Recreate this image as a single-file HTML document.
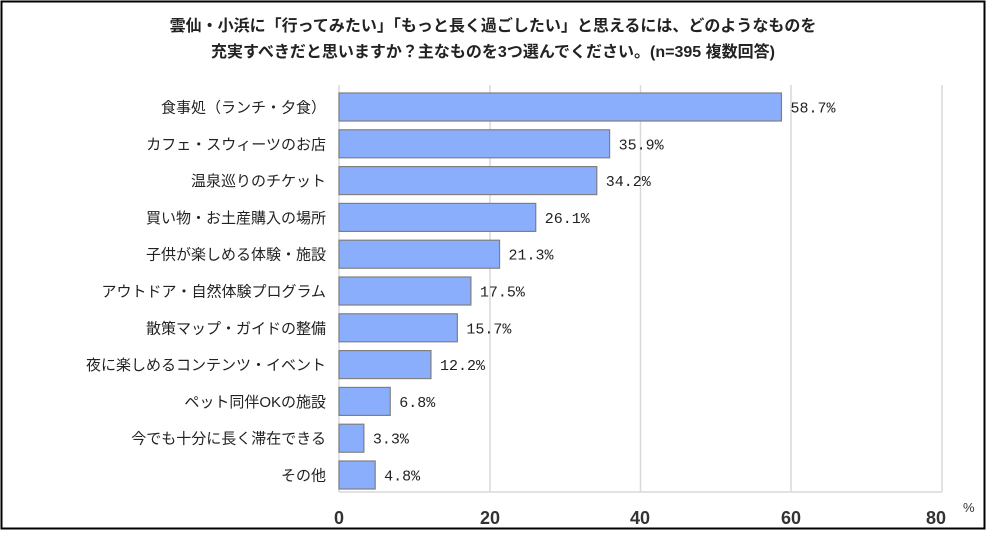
<!DOCTYPE html><html><head><meta charset="utf-8"><style>
body{margin:0;background:#fff;}
svg text{font-family:"Liberation Sans","Noto Sans CJK JP",sans-serif;}
svg text.m{font-family:"Liberation Mono",monospace;}
</style></head><body>
<svg width="987" height="532" xmlns="http://www.w3.org/2000/svg">
<rect x="1.5" y="1.5" width="983" height="527" fill="#fff" stroke="#000" stroke-width="2"/>
<text x="493" y="31" text-anchor="middle" font-size="16" font-weight="bold" fill="#222">雲仙・小浜に「行ってみたい」「もっと長く過ごしたい」と思えるには、どのようなものを</text>
<text x="493" y="57" text-anchor="middle" font-size="16" font-weight="bold" fill="#222">充実すべきだと思いますか？主なものを3つ選んでください。(n=395 複数回答)</text>
<g stroke="#d9d9d9" stroke-width="1.5">
<line x1="490" y1="85" x2="490" y2="492"/><line x1="640.5" y1="85" x2="640.5" y2="492"/><line x1="791" y1="85" x2="791" y2="492"/><line x1="942" y1="85" x2="942" y2="492"/><line x1="339" y1="85" x2="339" y2="492"/><line x1="339" y1="492" x2="942" y2="492"/>
</g>
<g fill="#8aaefc" stroke="#7f7f7f" stroke-width="1.2" id="bars"></g>
<g font-size="15" fill="#222" id="lab"></g>
<g font-size="18" font-weight="bold" fill="#333" text-anchor="middle">
<text x="339" y="524">0</text><text x="490" y="524">20</text><text x="640" y="524">40</text><text x="791" y="524">60</text><text x="936" y="524">80</text>
</g>
<text x="963" y="512" font-size="13" fill="#333">%</text>
<script>
var d=[["食事処（ランチ・夕食）",58.7],["カフェ・スウィーツのお店",35.9],["温泉巡りのチケット",34.2],["買い物・お土産購入の場所",26.1],["子供が楽しめる体験・施設",21.3],["アウトドア・自然体験プログラム",17.5],["散策マップ・ガイドの整備",15.7],["夜に楽しめるコンテンツ・イベント",12.2],["ペット同伴OKの施設",6.8],["今でも十分に長く滞在できる",3.3],["その他",4.8]];
var ns="http://www.w3.org/2000/svg",b=document.getElementById("bars"),l=document.getElementById("lab");
d.forEach(function(r,i){var y=93+i*36.8,w=r[1]*7.5375;
var e=document.createElementNS(ns,"rect");e.setAttribute("x",339);e.setAttribute("y",y);e.setAttribute("width",w);e.setAttribute("height",28);b.appendChild(e);
var t=document.createElementNS(ns,"text");t.setAttribute("x",326);t.setAttribute("y",y+19.5);t.setAttribute("text-anchor","end");t.textContent=r[0];l.appendChild(t);
t=document.createElementNS(ns,"text");t.setAttribute("x",339+w+9);t.setAttribute("y",y+19.5);t.setAttribute("class","m");t.textContent=r[1].toFixed(1)+"%";l.appendChild(t);});
</script>
</svg></body></html>
